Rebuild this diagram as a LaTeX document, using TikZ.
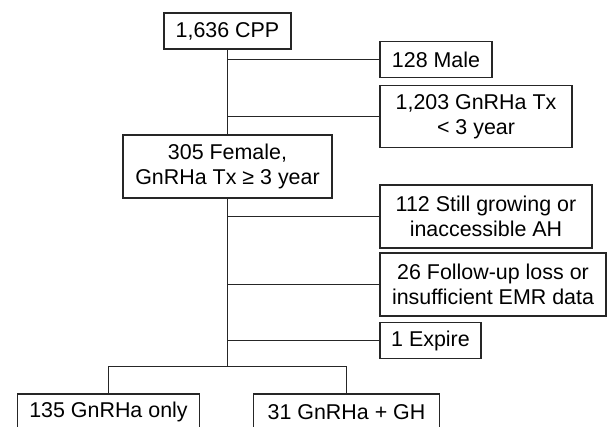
\documentclass[tikz,border=0pt]{standalone}
\usepackage{fontspec}
\setmainfont{Liberation Sans}
\usetikzlibrary{positioning}

\begin{document}
\begin{tikzpicture}[x=1bp,y=-1bp]

      \tikzset{
            box/.style = {draw=black!85, line width=1.4bp, inner sep=0pt, align=center,
                          font=\fontsize{21.5}{25}\selectfont},
            link/.style = {draw=black!85, line width=1.4bp}
      };

      % Page frame (608 x 426)
      \useasboundingbox (0,0) rectangle (608,426);
      \clip (0,0) rectangle (608,426);

      % Whole cohort and first exclusions
      \node[box, minimum width=127bp, minimum height=36bp] (cpp) at (227.5,31) {1,636 CPP};
      \node[box, minimum width=112bp, minimum height=36bp] (male) at (436,59.5) {128 Male};
      \node[box, minimum width=192bp, minimum height=62bp] (short) at (476,116.5) {1,203 GnRHa Tx\\< 3 year};

      % Included group
      \node[box, minimum width=209bp, minimum height=63bp] (female) at (227.5,166.5) {305 Female,\\GnRHa Tx ≥ 3 year};

      % Second exclusions
      \node[box, minimum width=212bp, minimum height=63bp] (grow) at (486,216.5) {112 Still growing or\\inaccessible AH};
      \node[box, minimum width=226bp, minimum height=63bp] (loss) at (493,284.5) {26 Follow-up loss or\\insufficient EMR data};
      \node[box, minimum width=101bp, minimum height=36bp] (expire) at (430.5,340.5) {1 Expire};

      % Final groups (cut by the page edge)
      \node[box, minimum width=182bp, minimum height=36bp] (only) at (108.5,412) {135 GnRHa only};
      \node[box, minimum width=186bp, minimum height=36bp] (plus) at (346.5,412) {31 GnRHa + GH};

      % Trunk lines
      \draw[link] (cpp.south) -- (female.north);
      \foreach \n in {male, short} {
            \draw[link] (cpp.south |- \n.west) -- (\n.west);
      }
      \coordinate (split) at (227.5,366.5);
      \draw[link] (female.south) -- (split);
      \foreach \n in {grow, loss, expire} {
            \draw[link] (female.south |- \n.west) -- (\n.west);
      }

      % Split into the two treatment groups
      \draw[link] (only.north) |- (split) -| (plus.north);

\end{tikzpicture}
\end{document}
